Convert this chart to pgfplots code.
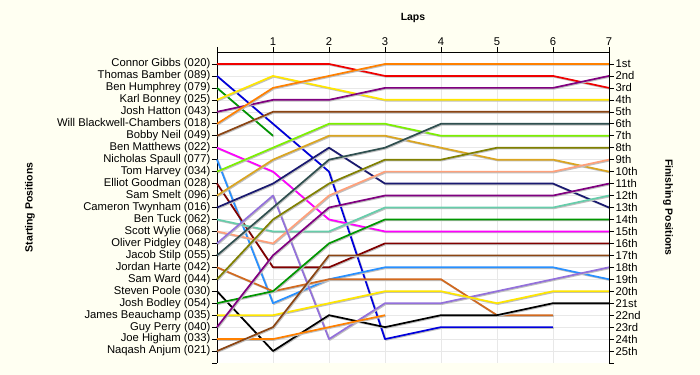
\documentclass[border=0pt]{standalone}
\usepackage{fontspec}
\setmainfont{Liberation Sans}
\usepackage{pgfplots}
\pgfplotsset{compat=1.18}
\definecolor{bgc}{RGB}{255,255,242}
\definecolor{cRed}{RGB}{240,0,0}
\definecolor{cBlue}{RGB}{0,0,220}
\definecolor{cGreen}{RGB}{0,150,0}
\definecolor{cYellow}{RGB}{255,230,0}
\definecolor{cPurple}{RGB}{128,0,128}
\definecolor{cOrange}{RGB}{255,128,0}
\definecolor{cBrown}{RGB}{139,69,19}
\definecolor{cMagenta}{RGB}{255,0,255}
\definecolor{cDodger}{RGB}{40,144,255}
\definecolor{cLawn}{RGB}{124,240,0}
\definecolor{cDarkRed}{RGB}{128,0,0}
\definecolor{cGold}{RGB}{218,165,32}
\definecolor{cNavy}{RGB}{25,25,112}
\definecolor{cAqua}{RGB}{102,205,170}
\definecolor{cSalmon}{RGB}{255,160,122}
\definecolor{cMedPurple}{RGB}{147,112,219}
\definecolor{cSlate}{RGB}{47,79,79}
\definecolor{cChoc}{RGB}{210,105,30}
\definecolor{cOlive}{RGB}{128,128,0}
\begin{document}
\begin{tikzpicture}
\path[use as bounding box] (-217bp,-12bp) rectangle (483bp,363bp);
\fill[bgc] (-217bp,-12bp) rectangle (483bp,363bp);
\begin{axis}[
  scale only axis, width=392bp, height=311bp,
  xmin=0, xmax=7, ymin=0, ymax=26, y dir=reverse,
  axis x line*=top, axis y line*=left,
  axis background/.style={fill=white},
  xtick={0,...,7}, xticklabels={,1,2,3,4,5,6,7},
  ytick={1,...,25},
  extra y ticks={26}, extra y tick labels={}, extra y tick style={grid=none},
  yticklabels={Connor Gibbs (020),Thomas Bamber (089),Ben Humphrey (079),Karl Bonney (025),Josh Hatton (043),Will Blackwell-Chambers (018),Bobby Neil (049),Ben Matthews (022),Nicholas Spaull (077),Tom Harvey (034),Elliot Goodman (028),Sam Smelt (096),Cameron Twynham (016),Ben Tuck (062),Scott Wylie (068),Oliver Pidgley (048),Jacob Stilp (055),Jordan Harte (042),Sam Ward (044),Steven Poole (030),Josh Bodley (054),James Beauchamp (035),Guy Perry (040),Joe Higham (033),Naqash Anjum (021)},
  tick align=outside, major tick length=5bp,
  tick style={black, line width=0.6pt},
  axis line style={black, line width=0.8pt},
  grid=major, major grid style={gray!18, line width=0.5pt},
  ticklabel style={font=\fontsize{11.3}{13}\selectfont},
  /pgf/number format/assume math mode=true,
  xlabel={\bfseries Laps},
  every axis x label/.style={at={(axis description cs:0.5,1.109)}, anchor=center, font=\fontsize{10.5}{12}\selectfont},
  ylabel={\bfseries Starting Positions},
  every axis y label/.style={at={(axis description cs:-0.477,0.5)}, rotate=90, anchor=center, font=\fontsize{10.5}{12}\selectfont},
  yticklabel style={inner sep=1.5bp},
  xticklabel style={inner sep=1.5bp},
  every axis plot/.append style={line width=1.7pt, line join=round,
     preaction={draw=black!25, line width=1.7pt, transform canvas={shift={(0.9bp,-0.9bp)}}}},
  clip=false,
]
\addplot[cRed] coordinates {(0,1)(1,1)(2,1)(3,2)(4,2)(5,2)(6,2)(7,3)};
\addplot[cBlue] coordinates {(0,2)(1,6)(2,10)(3,24)(4,23)(5,23)(6,23)};
\addplot[cGreen] coordinates {(0,3)(1,7)};
\addplot[cYellow] coordinates {(0,4)(1,2)(2,3)(3,4)(4,4)(5,4)(6,4)(7,4)};
\addplot[cPurple] coordinates {(0,5)(1,4)(2,4)(3,3)(4,3)(5,3)(6,3)(7,2)};
\addplot[cOrange] coordinates {(0,6)(1,3)(2,2)(3,1)(4,1)(5,1)(6,1)(7,1)};
\addplot[cBrown] coordinates {(0,7)(1,5)(2,5)(3,5)(4,5)(5,5)(6,5)(7,5)};
\addplot[cMagenta] coordinates {(0,8)(1,10)(2,14)(3,15)(4,15)(5,15)(6,15)(7,15)};
\addplot[cDodger] coordinates {(0,9)(1,21)(2,19)(3,18)(4,18)(5,18)(6,18)(7,19)};
\addplot[cLawn] coordinates {(0,10)(1,8)(2,6)(3,6)(4,7)(5,7)(6,7)(7,7)};
\addplot[cDarkRed] coordinates {(0,11)(1,18)(2,18)(3,16)(4,16)(5,16)(6,16)(7,16)};
\addplot[cGold] coordinates {(0,12)(1,9)(2,7)(3,7)(4,8)(5,9)(6,9)(7,10)};
\addplot[cNavy] coordinates {(0,13)(1,11)(2,8)(3,11)(4,11)(5,11)(6,11)(7,13)};
\addplot[cAqua] coordinates {(0,14)(1,15)(2,15)(3,13)(4,13)(5,13)(6,13)(7,12)};
\addplot[cSalmon] coordinates {(0,15)(1,16)(2,12)(3,10)(4,10)(5,10)(6,10)(7,9)};
\addplot[cMedPurple] coordinates {(0,16)(1,12)(2,24)(3,21)(4,21)(5,20)(6,19)(7,18)};
\addplot[cSlate] coordinates {(0,17)(1,13)(2,9)(3,8)(4,6)(5,6)(6,6)(7,6)};
\addplot[cChoc] coordinates {(0,18)(1,20)(2,19)(3,19)(4,19)(5,22)(6,22)};
\addplot[cOlive] coordinates {(0,19)(1,14)(2,11)(3,9)(4,9)(5,8)(6,8)(7,8)};
\addplot[black] coordinates {(0,20)(1,25)(2,22)(3,23)(4,22)(5,22)(6,21)(7,21)};
\addplot[cGreen] coordinates {(0,21)(1,20)(2,16)(3,14)(4,14)(5,14)(6,14)(7,14)};
\addplot[cYellow] coordinates {(0,22)(1,22)(2,21)(3,20)(4,20)(5,21)(6,20)(7,20)};
\addplot[cPurple] coordinates {(0,23)(1,17)(2,13)(3,12)(4,12)(5,12)(6,12)(7,11)};
\addplot[cOrange] coordinates {(0,24)(1,24)(2,23)(3,22)};
\addplot[cBrown] coordinates {(0,25)(1,23)(2,17)(3,17)(4,17)(5,17)(6,17)(7,17)};
\end{axis}
\begin{axis}[
  scale only axis, width=392bp, height=311bp,
  xmin=0, xmax=7, ymin=0, ymax=26, y dir=reverse,
  axis x line=none, axis y line*=right,
  ytick={1,...,25},
  extra y ticks={26}, extra y tick labels={},
  yticklabels={1st,2nd,3rd,4th,5th,6th,7th,8th,9th,10th,11th,12th,13th,14th,15th,16th,17th,18th,19th,20th,21st,22nd,23rd,24th,25th},
  tick align=outside, major tick length=5bp,
  tick style={black, line width=0.6pt},
  axis line style={black, line width=0.8pt},
  ticklabel style={font=\fontsize{11.3}{13}\selectfont},
  yticklabel style={inner sep=1.5bp},
  ylabel={\bfseries Finishing Positions},
  every axis y label/.style={at={(axis description cs:1.1505,0.5)}, rotate=-90, anchor=center, font=\fontsize{10.5}{12}\selectfont},
]
\end{axis}
\end{tikzpicture}
\end{document}
